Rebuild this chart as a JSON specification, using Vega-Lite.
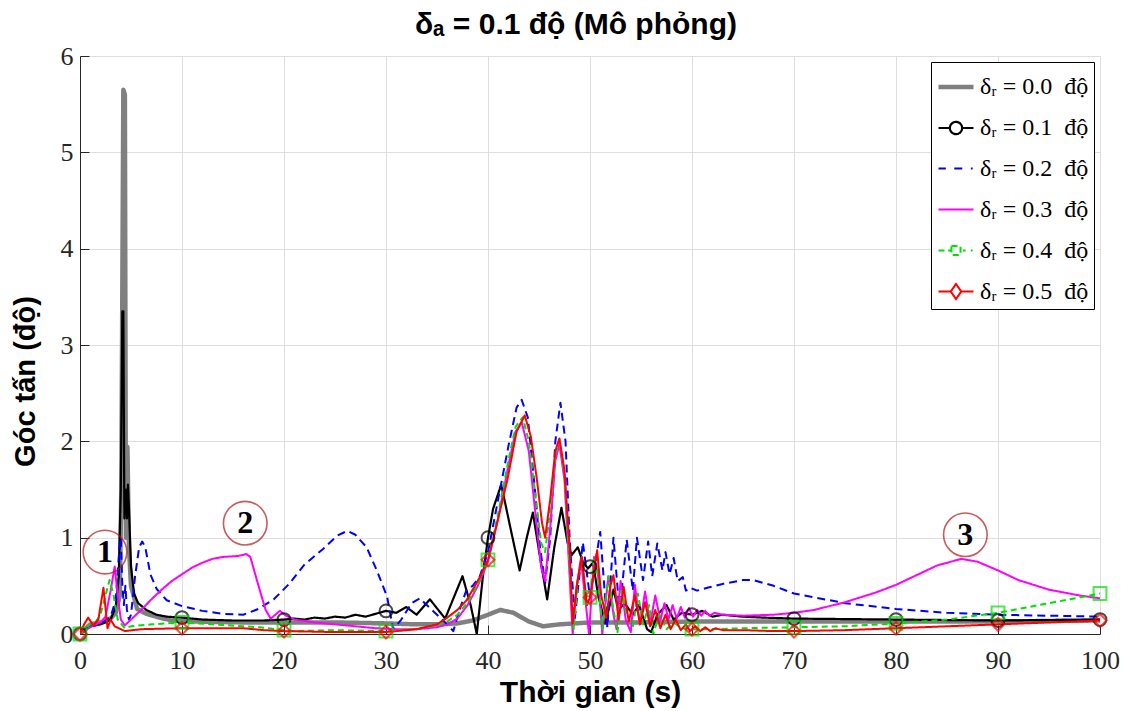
{
"$schema": "https://vega.github.io/schema/vega-lite/v6.json",
"width": 1020, "height": 578,
"autosize": {"type": "none"},
"padding": {"left": 80, "top": 56, "right": 31, "bottom": 77},
"background": "white",
"title": {"text": "δₐ = 0.1 độ (Mô phỏng)", "font": "Liberation Sans, DejaVu Sans", "fontSize": 30, "fontWeight": "bold", "color": "black", "offset": 3, "anchor": "middle", "dx": -14},
"config": {
  "view": {"stroke": null},
  "axis": {"domainColor": "#262626", "domainWidth": 1, "tickColor": "#262626", "tickSize": -9, "tickWidth": 1, "gridColor": "#dedede", "gridWidth": 1, "labelFont": "Liberation Serif", "labelFontSize": 26, "labelColor": "#262626", "labelFlush": false, "titleFont": "Liberation Sans, DejaVu Sans", "titleFontWeight": "bold", "titleColor": "black"},
  "axisX": {"labelPadding": 22, "titleFontSize": 30, "titleY": 43},
  "axisY": {"labelPadding": 16, "titleFontSize": 29, "titleX": -40, "titleY": 325},
  "legend": {"fillColor": "white", "strokeColor": "black", "padding": 5, "labelFont": "Liberation Serif, DejaVu Serif", "labelFontSize": 24, "labelColor": "black", "symbolSize": 1225, "rowPadding": 10, "labelOffset": 4}
},
"datasets": {
"lines": [
{"s":"0.0","t":0,"v":0},{"s":"0.0","t":0.5,"v":0.05},{"s":"0.0","t":1,"v":0.1},{"s":"0.0","t":1.5,"v":0.11},{"s":"0.0","t":2,"v":0.12},{"s":"0.0","t":2.5,"v":0.14},{"s":"0.0","t":3,"v":0.16},{"s":"0.0","t":3.5,"v":0.22},{"s":"0.0","t":3.9,"v":0.4},{"s":"0.0","t":4.05,"v":1.5},{"s":"0.0","t":4.25,"v":5.65},{"s":"0.0","t":4.4,"v":5.6},{"s":"0.0","t":4.5,"v":1.0},{"s":"0.0","t":4.65,"v":1.94},{"s":"0.0","t":4.8,"v":0.9},{"s":"0.0","t":5.0,"v":0.5},{"s":"0.0","t":5.6,"v":0.26},{"s":"0.0","t":6.5,"v":0.21},{"s":"0.0","t":7.8,"v":0.17},{"s":"0.0","t":9,"v":0.14},{"s":"0.0","t":11,"v":0.13},{"s":"0.0","t":16,"v":0.12},{"s":"0.0","t":20,"v":0.12},{"s":"0.0","t":25,"v":0.12},{"s":"0.0","t":30,"v":0.11},{"s":"0.0","t":33,"v":0.1},{"s":"0.0","t":35,"v":0.1},{"s":"0.0","t":37,"v":0.11},{"s":"0.0","t":38.5,"v":0.14},{"s":"0.0","t":40,"v":0.2},{"s":"0.0","t":41.2,"v":0.25},{"s":"0.0","t":42.5,"v":0.22},{"s":"0.0","t":44,"v":0.13},{"s":"0.0","t":45.4,"v":0.08},{"s":"0.0","t":47,"v":0.1},{"s":"0.0","t":50,"v":0.12},{"s":"0.0","t":55,"v":0.12},{"s":"0.0","t":60,"v":0.13},{"s":"0.0","t":70,"v":0.13},{"s":"0.0","t":80,"v":0.13},{"s":"0.0","t":90,"v":0.13},{"s":"0.0","t":100,"v":0.14},

{"s":"0.1","t":0,"v":0},{"s":"0.1","t":0.5,"v":0.05},{"s":"0.1","t":1,"v":0.08},{"s":"0.1","t":1.5,"v":0.09},{"s":"0.1","t":2,"v":0.1},{"s":"0.1","t":2.5,"v":0.12},{"s":"0.1","t":3,"v":0.15},{"s":"0.1","t":3.5,"v":0.28},{"s":"0.1","t":3.8,"v":0.6},{"s":"0.1","t":4.0,"v":1.5},{"s":"0.1","t":4.15,"v":3.35},{"s":"0.1","t":4.25,"v":3.35},{"s":"0.1","t":4.35,"v":1.2},{"s":"0.1","t":4.5,"v":1.5},{"s":"0.1","t":4.6,"v":1.2},{"s":"0.1","t":4.7,"v":1.55},{"s":"0.1","t":4.8,"v":1.3},{"s":"0.1","t":5.0,"v":0.7},{"s":"0.1","t":5.3,"v":0.42},{"s":"0.1","t":5.7,"v":0.32},{"s":"0.1","t":6.5,"v":0.25},{"s":"0.1","t":7.5,"v":0.2},{"s":"0.1","t":8.5,"v":0.18},{"s":"0.1","t":10,"v":0.17},{"s":"0.1","t":12,"v":0.15},{"s":"0.1","t":15,"v":0.14},{"s":"0.1","t":18,"v":0.14},{"s":"0.1","t":20,"v":0.15},{"s":"0.1","t":21,"v":0.16},{"s":"0.1","t":22,"v":0.15},{"s":"0.1","t":23,"v":0.17},{"s":"0.1","t":24,"v":0.16},{"s":"0.1","t":25,"v":0.18},{"s":"0.1","t":26,"v":0.17},{"s":"0.1","t":27,"v":0.2},{"s":"0.1","t":28,"v":0.18},{"s":"0.1","t":29,"v":0.21},{"s":"0.1","t":30,"v":0.24},{"s":"0.1","t":31,"v":0.22},{"s":"0.1","t":32,"v":0.28},{"s":"0.1","t":33,"v":0.2},{"s":"0.1","t":34.3,"v":0.36},{"s":"0.1","t":35.8,"v":0.16},{"s":"0.1","t":37.5,"v":0.6},{"s":"0.1","t":38.3,"v":0.3},{"s":"0.1","t":38.9,"v":0.0},{"s":"0.1","t":39.5,"v":0.6},{"s":"0.1","t":40,"v":1.0},{"s":"0.1","t":40.5,"v":1.3},{"s":"0.1","t":41.3,"v":1.55},{"s":"0.1","t":42.2,"v":1.1},{"s":"0.1","t":43.1,"v":0.66},{"s":"0.1","t":43.8,"v":1.0},{"s":"0.1","t":44.4,"v":1.26},{"s":"0.1","t":45.1,"v":0.8},{"s":"0.1","t":45.8,"v":0.36},{"s":"0.1","t":46.5,"v":0.9},{"s":"0.1","t":47.2,"v":1.31},{"s":"0.1","t":47.8,"v":0.95},{"s":"0.1","t":48.2,"v":0.82},{"s":"0.1","t":48.8,"v":0.9},{"s":"0.1","t":49.3,"v":0.75},{"s":"0.1","t":49.8,"v":0.68},{"s":"0.1","t":50.3,"v":0.74},{"s":"0.1","t":50.8,"v":0.4},{"s":"0.1","t":51.5,"v":0.11},{"s":"0.1","t":52.3,"v":0.46},{"s":"0.1","t":52.8,"v":0.25},{"s":"0.1","t":53.4,"v":0.32},{"s":"0.1","t":54.2,"v":0.2},{"s":"0.1","t":54.8,"v":0.3},{"s":"0.1","t":55.6,"v":0.05},{"s":"0.1","t":56,"v":0.02},{"s":"0.1","t":56.6,"v":0.2},{"s":"0.1","t":57.5,"v":0.3},{"s":"0.1","t":58.2,"v":0.15},{"s":"0.1","t":59,"v":0.22},{"s":"0.1","t":60,"v":0.2},{"s":"0.1","t":61,"v":0.24},{"s":"0.1","t":62,"v":0.18},{"s":"0.1","t":63,"v":0.2},{"s":"0.1","t":65,"v":0.18},{"s":"0.1","t":67,"v":0.17},{"s":"0.1","t":70,"v":0.16},{"s":"0.1","t":80,"v":0.15},{"s":"0.1","t":90,"v":0.14},{"s":"0.1","t":100,"v":0.15},

{"s":"0.2","t":0,"v":0},{"s":"0.2","t":1,"v":0.08},{"s":"0.2","t":2,"v":0.1},{"s":"0.2","t":3,"v":0.18},{"s":"0.2","t":3.5,"v":0.35},{"s":"0.2","t":3.8,"v":0.8},{"s":"0.2","t":4.0,"v":1.0},{"s":"0.2","t":4.15,"v":0.5},{"s":"0.2","t":4.3,"v":0.3},{"s":"0.2","t":4.45,"v":0.5},{"s":"0.2","t":4.6,"v":0.25},{"s":"0.2","t":4.8,"v":0.15},{"s":"0.2","t":5.0,"v":0.2},{"s":"0.2","t":5.4,"v":0.6},{"s":"0.2","t":5.8,"v":0.9},{"s":"0.2","t":6.1,"v":0.96},{"s":"0.2","t":6.4,"v":0.9},{"s":"0.2","t":6.9,"v":0.62},{"s":"0.2","t":7.5,"v":0.47},{"s":"0.2","t":8.5,"v":0.35},{"s":"0.2","t":10,"v":0.29},{"s":"0.2","t":12,"v":0.24},{"s":"0.2","t":14,"v":0.21},{"s":"0.2","t":16,"v":0.2},{"s":"0.2","t":17.5,"v":0.26},{"s":"0.2","t":19,"v":0.36},{"s":"0.2","t":20.5,"v":0.52},{"s":"0.2","t":22,"v":0.72},{"s":"0.2","t":23.8,"v":0.88},{"s":"0.2","t":25.2,"v":1.02},{"s":"0.2","t":26.2,"v":1.07},{"s":"0.2","t":27,"v":1.03},{"s":"0.2","t":28.1,"v":0.9},{"s":"0.2","t":29.1,"v":0.66},{"s":"0.2","t":30.1,"v":0.39},{"s":"0.2","t":30.7,"v":0.05},{"s":"0.2","t":31.5,"v":0.15},{"s":"0.2","t":32.5,"v":0.32},{"s":"0.2","t":33.3,"v":0.37},{"s":"0.2","t":34,"v":0.3},{"s":"0.2","t":35,"v":0.2},{"s":"0.2","t":35.8,"v":0.12},{"s":"0.2","t":36.6,"v":0.03},{"s":"0.2","t":37.2,"v":0.25},{"s":"0.2","t":37.9,"v":0.46},{"s":"0.2","t":38.5,"v":0.5},{"s":"0.2","t":39.2,"v":0.6},{"s":"0.2","t":40,"v":0.85},{"s":"0.2","t":41,"v":1.4},{"s":"0.2","t":42,"v":1.95},{"s":"0.2","t":42.8,"v":2.35},{"s":"0.2","t":43.3,"v":2.43},{"s":"0.2","t":43.9,"v":2.25},{"s":"0.2","t":44.6,"v":1.5},{"s":"0.2","t":45.1,"v":0.9},{"s":"0.2","t":45.6,"v":0.53},{"s":"0.2","t":46.1,"v":1.0},{"s":"0.2","t":46.6,"v":2.0},{"s":"0.2","t":47.1,"v":2.4},{"s":"0.2","t":47.6,"v":2.0},{"s":"0.2","t":48.0,"v":1.0},{"s":"0.2","t":48.5,"v":0.15},{"s":"0.2","t":49.3,"v":0.95},{"s":"0.2","t":50.0,"v":0.38},{"s":"0.2","t":51.0,"v":1.06},{"s":"0.2","t":51.7,"v":0.07},{"s":"0.2","t":52.3,"v":1.0},{"s":"0.2","t":52.9,"v":0.22},{"s":"0.2","t":53.6,"v":0.98},{"s":"0.2","t":54.2,"v":0.45},{"s":"0.2","t":54.6,"v":1.0},{"s":"0.2","t":55.2,"v":0.56},{"s":"0.2","t":55.7,"v":0.96},{"s":"0.2","t":56.1,"v":0.6},{"s":"0.2","t":56.6,"v":0.94},{"s":"0.2","t":57.1,"v":0.66},{"s":"0.2","t":57.4,"v":0.85},{"s":"0.2","t":57.8,"v":0.62},{"s":"0.2","t":58.2,"v":0.79},{"s":"0.2","t":58.6,"v":0.55},{"s":"0.2","t":59.1,"v":0.59},{"s":"0.2","t":59.4,"v":0.45},{"s":"0.2","t":59.8,"v":0.48},{"s":"0.2","t":60.5,"v":0.45},{"s":"0.2","t":61.5,"v":0.48},{"s":"0.2","t":63,"v":0.52},{"s":"0.2","t":65,"v":0.56},{"s":"0.2","t":66,"v":0.56},{"s":"0.2","t":68,"v":0.5},{"s":"0.2","t":70,"v":0.42},{"s":"0.2","t":75,"v":0.32},{"s":"0.2","t":80,"v":0.26},{"s":"0.2","t":85,"v":0.22},{"s":"0.2","t":90,"v":0.2},{"s":"0.2","t":95,"v":0.19},{"s":"0.2","t":100,"v":0.18},

{"s":"0.3","t":0,"v":0},{"s":"0.3","t":1,"v":0.07},{"s":"0.3","t":1.5,"v":0.1},{"s":"0.3","t":2,"v":0.12},{"s":"0.3","t":2.5,"v":0.18},{"s":"0.3","t":3.0,"v":0.45},{"s":"0.3","t":3.4,"v":0.7},{"s":"0.3","t":3.7,"v":0.4},{"s":"0.3","t":4.0,"v":0.15},{"s":"0.3","t":4.4,"v":0.09},{"s":"0.3","t":5,"v":0.15},{"s":"0.3","t":6,"v":0.25},{"s":"0.3","t":7,"v":0.36},{"s":"0.3","t":8,"v":0.46},{"s":"0.3","t":9,"v":0.55},{"s":"0.3","t":10,"v":0.62},{"s":"0.3","t":11,"v":0.69},{"s":"0.3","t":12,"v":0.74},{"s":"0.3","t":13,"v":0.78},{"s":"0.3","t":14,"v":0.8},{"s":"0.3","t":15.5,"v":0.81},{"s":"0.3","t":16.3,"v":0.83},{"s":"0.3","t":16.7,"v":0.8},{"s":"0.3","t":17.5,"v":0.5},{"s":"0.3","t":18.2,"v":0.25},{"s":"0.3","t":18.7,"v":0.16},{"s":"0.3","t":19.6,"v":0.24},{"s":"0.3","t":20.2,"v":0.19},{"s":"0.3","t":21,"v":0.15},{"s":"0.3","t":23,"v":0.12},{"s":"0.3","t":25,"v":0.1},{"s":"0.3","t":27,"v":0.08},{"s":"0.3","t":29,"v":0.06},{"s":"0.3","t":31,"v":0.05},{"s":"0.3","t":33,"v":0.05},{"s":"0.3","t":35,"v":0.07},{"s":"0.3","t":36,"v":0.1},{"s":"0.3","t":37,"v":0.16},{"s":"0.3","t":38,"v":0.3},{"s":"0.3","t":39,"v":0.5},{"s":"0.3","t":40,"v":0.75},{"s":"0.3","t":41,"v":1.2},{"s":"0.3","t":42,"v":1.75},{"s":"0.3","t":42.7,"v":2.1},{"s":"0.3","t":43.3,"v":2.2},{"s":"0.3","t":44,"v":1.9},{"s":"0.3","t":44.7,"v":1.2},{"s":"0.3","t":45.2,"v":0.7},{"s":"0.3","t":45.6,"v":0.55},{"s":"0.3","t":46.1,"v":1.1},{"s":"0.3","t":46.6,"v":1.8},{"s":"0.3","t":47,"v":1.97},{"s":"0.3","t":47.5,"v":1.6},{"s":"0.3","t":48,"v":0.6},{"s":"0.3","t":48.3,"v":0.0},{"s":"0.3","t":48.7,"v":0.5},{"s":"0.3","t":49.1,"v":0.78},{"s":"0.3","t":49.6,"v":0.3},{"s":"0.3","t":49.9,"v":0.0},{"s":"0.3","t":50.4,"v":0.8},{"s":"0.3","t":50.8,"v":0.6},{"s":"0.3","t":51.2,"v":0.0},{"s":"0.3","t":51.8,"v":0.6},{"s":"0.3","t":52.3,"v":0.2},{"s":"0.3","t":52.6,"v":0.05},{"s":"0.3","t":53.0,"v":0.55},{"s":"0.3","t":53.5,"v":0.15},{"s":"0.3","t":54.0,"v":0.02},{"s":"0.3","t":54.4,"v":0.51},{"s":"0.3","t":54.9,"v":0.1},{"s":"0.3","t":55.4,"v":0.44},{"s":"0.3","t":55.9,"v":0.11},{"s":"0.3","t":56.4,"v":0.4},{"s":"0.3","t":56.9,"v":0.14},{"s":"0.3","t":57.3,"v":0.32},{"s":"0.3","t":57.7,"v":0.15},{"s":"0.3","t":58.1,"v":0.3},{"s":"0.3","t":58.5,"v":0.16},{"s":"0.3","t":58.9,"v":0.28},{"s":"0.3","t":59.3,"v":0.17},{"s":"0.3","t":59.7,"v":0.27},{"s":"0.3","t":60.1,"v":0.18},{"s":"0.3","t":60.5,"v":0.25},{"s":"0.3","t":60.9,"v":0.19},{"s":"0.3","t":61.3,"v":0.24},{"s":"0.3","t":61.7,"v":0.19},{"s":"0.3","t":62.2,"v":0.22},{"s":"0.3","t":63,"v":0.2},{"s":"0.3","t":65,"v":0.19},{"s":"0.3","t":68,"v":0.2},{"s":"0.3","t":70,"v":0.22},{"s":"0.3","t":72,"v":0.25},{"s":"0.3","t":75,"v":0.33},{"s":"0.3","t":78,"v":0.43},{"s":"0.3","t":80,"v":0.51},{"s":"0.3","t":82,"v":0.61},{"s":"0.3","t":84,"v":0.71},{"s":"0.3","t":86.4,"v":0.78},{"s":"0.3","t":88,"v":0.75},{"s":"0.3","t":90,"v":0.66},{"s":"0.3","t":92,"v":0.56},{"s":"0.3","t":95,"v":0.46},{"s":"0.3","t":98,"v":0.4},{"s":"0.3","t":100,"v":0.37},

{"s":"0.4","t":0,"v":0},{"s":"0.4","t":0.5,"v":0.05},{"s":"0.4","t":1,"v":0.1},{"s":"0.4","t":1.5,"v":0.12},{"s":"0.4","t":2,"v":0.2},{"s":"0.4","t":2.5,"v":0.4},{"s":"0.4","t":2.9,"v":0.56},{"s":"0.4","t":3.3,"v":0.4},{"s":"0.4","t":3.7,"v":0.15},{"s":"0.4","t":4.4,"v":0.06},{"s":"0.4","t":5,"v":0.08},{"s":"0.4","t":7,"v":0.1},{"s":"0.4","t":10,"v":0.12},{"s":"0.4","t":13,"v":0.1},{"s":"0.4","t":17.6,"v":0.07},{"s":"0.4","t":20.9,"v":0.03},{"s":"0.4","t":25,"v":0.04},{"s":"0.4","t":30,"v":0.03},{"s":"0.4","t":33,"v":0.05},{"s":"0.4","t":35,"v":0.09},{"s":"0.4","t":36,"v":0.13},{"s":"0.4","t":37,"v":0.2},{"s":"0.4","t":38,"v":0.33},{"s":"0.4","t":39,"v":0.52},{"s":"0.4","t":40,"v":0.77},{"s":"0.4","t":41,"v":1.25},{"s":"0.4","t":42,"v":1.8},{"s":"0.4","t":42.7,"v":2.15},{"s":"0.4","t":43.4,"v":2.25},{"s":"0.4","t":44,"v":2.0},{"s":"0.4","t":44.7,"v":1.4},{"s":"0.4","t":45.2,"v":0.95},{"s":"0.4","t":45.6,"v":0.85},{"s":"0.4","t":46.1,"v":1.3},{"s":"0.4","t":46.6,"v":1.85},{"s":"0.4","t":47,"v":2.02},{"s":"0.4","t":47.5,"v":1.65},{"s":"0.4","t":48,"v":0.7},{"s":"0.4","t":48.4,"v":0.05},{"s":"0.4","t":48.8,"v":0.55},{"s":"0.4","t":49.2,"v":0.78},{"s":"0.4","t":49.6,"v":0.4},{"s":"0.4","t":50.0,"v":0.38},{"s":"0.4","t":50.4,"v":0.8},{"s":"0.4","t":50.8,"v":0.6},{"s":"0.4","t":51.2,"v":0.05},{"s":"0.4","t":51.8,"v":0.6},{"s":"0.4","t":52.3,"v":0.25},{"s":"0.4","t":52.7,"v":0.02},{"s":"0.4","t":53.1,"v":0.45},{"s":"0.4","t":53.6,"v":0.2},{"s":"0.4","t":54.2,"v":0.08},{"s":"0.4","t":54.7,"v":0.42},{"s":"0.4","t":55.2,"v":0.1},{"s":"0.4","t":55.8,"v":0.3},{"s":"0.4","t":56.2,"v":0.0},{"s":"0.4","t":56.8,"v":0.2},{"s":"0.4","t":57.5,"v":0.05},{"s":"0.4","t":58.2,"v":0.12},{"s":"0.4","t":59,"v":0.06},{"s":"0.4","t":60,"v":0.05},{"s":"0.4","t":62,"v":0.05},{"s":"0.4","t":65,"v":0.06},{"s":"0.4","t":70,"v":0.07},{"s":"0.4","t":75,"v":0.08},{"s":"0.4","t":80,"v":0.11},{"s":"0.4","t":85,"v":0.15},{"s":"0.4","t":90,"v":0.22},{"s":"0.4","t":95,"v":0.32},{"s":"0.4","t":100,"v":0.42},

{"s":"0.5","t":0,"v":0},{"s":"0.5","t":0.4,"v":0.1},{"s":"0.5","t":0.8,"v":0.17},{"s":"0.5","t":1.3,"v":0.09},{"s":"0.5","t":1.8,"v":0.15},{"s":"0.5","t":2.3,"v":0.48},{"s":"0.5","t":2.7,"v":0.06},{"s":"0.5","t":3.0,"v":0.15},{"s":"0.5","t":3.4,"v":0.08},{"s":"0.5","t":4.4,"v":0.03},{"s":"0.5","t":6,"v":0.05},{"s":"0.5","t":10,"v":0.06},{"s":"0.5","t":16,"v":0.06},{"s":"0.5","t":18,"v":0.04},{"s":"0.5","t":20,"v":0.03},{"s":"0.5","t":25,"v":0.02},{"s":"0.5","t":30,"v":0.02},{"s":"0.5","t":33,"v":0.05},{"s":"0.5","t":35,"v":0.1},{"s":"0.5","t":36,"v":0.17},{"s":"0.5","t":37,"v":0.25},{"s":"0.5","t":37.9,"v":0.35},{"s":"0.5","t":39.2,"v":0.59},{"s":"0.5","t":40,"v":0.77},{"s":"0.5","t":41,"v":1.2},{"s":"0.5","t":41.9,"v":1.6},{"s":"0.5","t":42.8,"v":2.1},{"s":"0.5","t":43.6,"v":2.27},{"s":"0.5","t":44.2,"v":2.05},{"s":"0.5","t":44.8,"v":1.6},{"s":"0.5","t":45.3,"v":1.15},{"s":"0.5","t":45.6,"v":1.0},{"s":"0.5","t":46.1,"v":1.4},{"s":"0.5","t":46.6,"v":1.9},{"s":"0.5","t":47,"v":2.03},{"s":"0.5","t":47.5,"v":1.7},{"s":"0.5","t":48,"v":0.9},{"s":"0.5","t":48.3,"v":0.11},{"s":"0.5","t":48.7,"v":0.5},{"s":"0.5","t":49.2,"v":0.8},{"s":"0.5","t":49.7,"v":0.3},{"s":"0.5","t":50.0,"v":0.38},{"s":"0.5","t":50.7,"v":0.87},{"s":"0.5","t":51.1,"v":0.4},{"s":"0.5","t":51.6,"v":0.17},{"s":"0.5","t":52.0,"v":0.5},{"s":"0.5","t":52.3,"v":0.61},{"s":"0.5","t":52.8,"v":0.15},{"s":"0.5","t":53.3,"v":0.49},{"s":"0.5","t":53.8,"v":0.13},{"s":"0.5","t":54.4,"v":0.4},{"s":"0.5","t":54.9,"v":0.1},{"s":"0.5","t":55.4,"v":0.33},{"s":"0.5","t":55.9,"v":0.08},{"s":"0.5","t":56.4,"v":0.25},{"s":"0.5","t":56.9,"v":0.06},{"s":"0.5","t":57.4,"v":0.2},{"s":"0.5","t":57.9,"v":0.05},{"s":"0.5","t":58.4,"v":0.15},{"s":"0.5","t":58.9,"v":0.04},{"s":"0.5","t":59.4,"v":0.1},{"s":"0.5","t":59.8,"v":0.03},{"s":"0.5","t":60.3,"v":0.08},{"s":"0.5","t":60.8,"v":0.03},{"s":"0.5","t":61.3,"v":0.07},{"s":"0.5","t":61.8,"v":0.03},{"s":"0.5","t":62.3,"v":0.06},{"s":"0.5","t":63,"v":0.04},{"s":"0.5","t":65,"v":0.04},{"s":"0.5","t":68,"v":0.03},{"s":"0.5","t":70,"v":0.03},{"s":"0.5","t":75,"v":0.04},{"s":"0.5","t":80,"v":0.06},{"s":"0.5","t":85,"v":0.08},{"s":"0.5","t":90,"v":0.1},{"s":"0.5","t":95,"v":0.12},{"s":"0.5","t":100,"v":0.14}
],
"marks": [
{"s":"0.1","t":0,"v":0},{"s":"0.1","t":10,"v":0.17},{"s":"0.1","t":20,"v":0.15},{"s":"0.1","t":30,"v":0.24},{"s":"0.1","t":40,"v":1.0},{"s":"0.1","t":50,"v":0.7},{"s":"0.1","t":60,"v":0.2},{"s":"0.1","t":70,"v":0.16},{"s":"0.1","t":80,"v":0.15},{"s":"0.1","t":90,"v":0.14},{"s":"0.1","t":100,"v":0.15},
{"s":"0.4","t":0,"v":0},{"s":"0.4","t":10,"v":0.12},{"s":"0.4","t":20,"v":0.04},{"s":"0.4","t":30,"v":0.03},{"s":"0.4","t":40,"v":0.77},{"s":"0.4","t":50,"v":0.38},{"s":"0.4","t":60,"v":0.05},{"s":"0.4","t":70,"v":0.07},{"s":"0.4","t":80,"v":0.11},{"s":"0.4","t":90,"v":0.22},{"s":"0.4","t":100,"v":0.42},
{"s":"0.5","t":0,"v":0},{"s":"0.5","t":10,"v":0.06},{"s":"0.5","t":20,"v":0.03},{"s":"0.5","t":30,"v":0.02},{"s":"0.5","t":40,"v":0.77},{"s":"0.5","t":50,"v":0.38},{"s":"0.5","t":60,"v":0.05},{"s":"0.5","t":70,"v":0.03},{"s":"0.5","t":80,"v":0.06},{"s":"0.5","t":90,"v":0.1},{"s":"0.5","t":100,"v":0.14}
],
"notes": [
{"t":2.45,"v":0.85,"lab":"1"},{"t":16.2,"v":1.15,"lab":"2"},{"t":86.8,"v":1.03,"lab":"3"}
]
},
"layer": [
{
 "data": {"name": "lines"},
 "mark": {"type": "line", "clip": true, "strokeJoin": "round"},
 "encoding": {
  "x": {"field": "t", "type": "quantitative", "scale": {"domain": [0, 100], "nice": false}, "axis": {"values": [0,10,20,30,40,50,60,70,80,90,100], "title": "Thời gian (s)"}},
  "y": {"field": "v", "type": "quantitative", "scale": {"domain": [0, 6], "nice": false}, "axis": {"values": [0,1,2,3,4,5,6], "format": "d", "title": "Góc tấn (độ)"}},
  "color": {"field": "s", "type": "nominal",
    "scale": {"domain": ["0.0","0.1","0.2","0.3","0.4","0.5"], "range": ["#808080","#000000","#0000ff","#ff00ff","#00e000","#ff0000"]},
    "legend": {"title": null, "orient": "top-right", "offset": 6,
      "labelExpr": "'δᵣ = ' + datum.label + ' \u00a0độ'",
      "encode": {"symbols": {"update": {
        "shape": {"signal": "datum.value === '0.1' ? 'M-1,0H-0.35M0.35,0H1M-0.35,0A0.35,0.35 0 1,0 0.35,0A0.35,0.35 0 1,0 -0.35,0' : datum.value === '0.2' ? 'M-1,0H-0.58M-0.1,0H0.37M0.85,0H0.95' : datum.value === '0.4' ? 'M-1,0H-0.6M-0.45,0H-0.3M-0.26,-0.26H0.26V0.26H-0.26ZM0.4,0H0.55M0.85,0H0.95' : datum.value === '0.5' ? 'M-1,0H-0.3M0.3,0H1M-0.3,0L0,-0.43L0.3,0L0,0.43Z' : 'M-1,0H1'"},
        "strokeWidth": {"signal": "datum.value === '0.0' ? 4 : 2"},
        "fill": {"value": "transparent"},
        "strokeDash": {"value": []}
      }}}
    }},
  "strokeDash": {"field": "s", "type": "nominal", "scale": {"domain": ["0.0","0.1","0.2","0.3","0.4","0.5"], "range": [[1,0],[1,0],[8,5],[1,0],[6,4],[1,0]]}, "legend": null},
  "strokeWidth": {"field": "s", "type": "nominal", "scale": {"type": "ordinal", "domain": ["0.0","0.1","0.2","0.3","0.4","0.5"], "range": [4.5,2.2,2,2,2,2]}, "legend": null}
 }
},
{
 "data": {"name": "marks"},
 "mark": {"type": "point", "filled": false, "strokeWidth": 2, "size": 165, "clip": false},
 "encoding": {
  "x": {"field": "t", "type": "quantitative"},
  "y": {"field": "v", "type": "quantitative"},
  "color": {"field": "s", "type": "nominal"},
  "shape": {"field": "s", "type": "nominal", "scale": {"domain": ["0.1","0.4","0.5"], "range": ["circle","square","diamond"]}, "legend": null}
 }
},
{
 "data": {"name": "notes"},
 "mark": {"type": "point", "shape": "circle", "size": 1900, "filled": false, "stroke": "#b01818", "strokeWidth": 1.6},
 "encoding": {
  "x": {"field": "t", "type": "quantitative"},
  "y": {"field": "v", "type": "quantitative"}
 }
},
{
 "data": {"name": "notes"},
 "mark": {"type": "text", "font": "Liberation Serif", "fontWeight": "bold", "fontSize": 32, "baseline": "middle", "align": "center", "color": "black"},
 "encoding": {
  "x": {"field": "t", "type": "quantitative"},
  "y": {"field": "v", "type": "quantitative"},
  "text": {"field": "lab", "type": "nominal"}
 }
}
]
}
